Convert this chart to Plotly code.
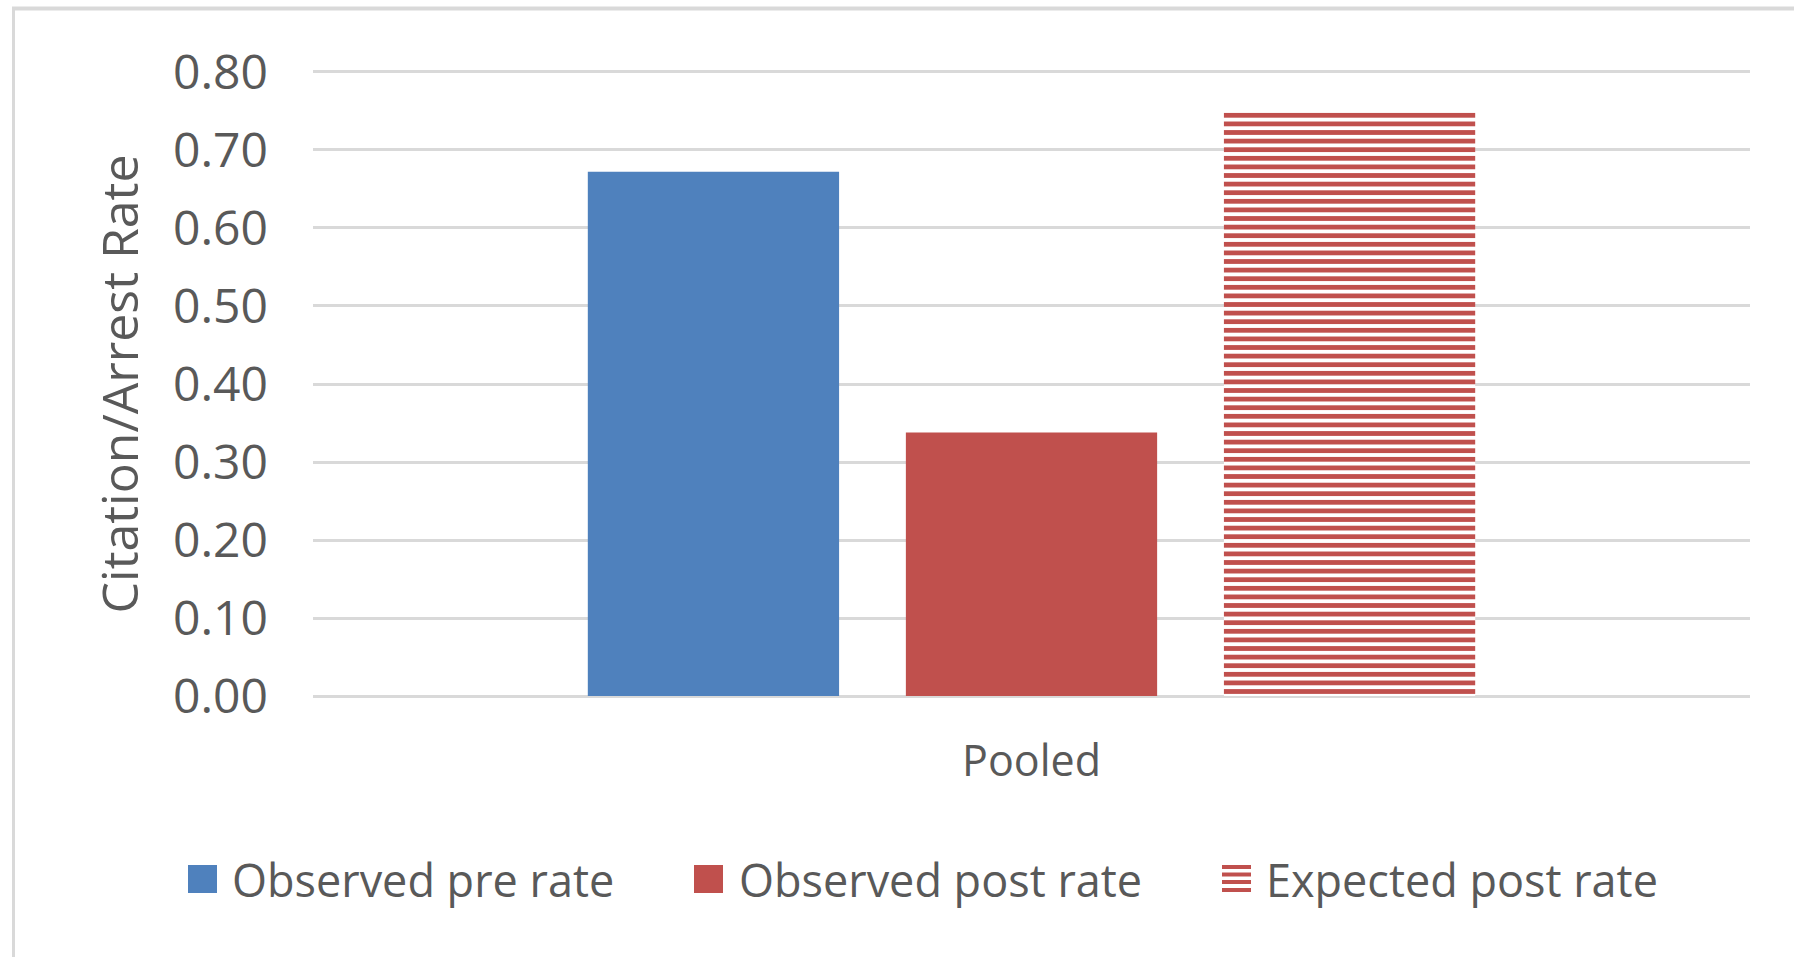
import plotly.graph_objects as go

# Data
categories = ["Pooled"]
series_names = ["Observed pre rate", "Observed post rate", "Expected post rate"]
observed_pre = [0.672]
observed_post = [0.338]
expected_post = [0.750]
y_ticks = [0.0, 0.1, 0.2, 0.3, 0.4, 0.5, 0.6, 0.7, 0.8]
y_tick_labels = ["0.00", "0.10", "0.20", "0.30", "0.40", "0.50", "0.60", "0.70", "0.80"]

BLUE = "#4F81BD"
RED = "#C0504D"
GRID = "#D9D9D9"
TEXT = "#595959"
FONT = "Open Sans"

W, H = 1794, 957
# pixel placement of the value axis: 0.00 at y=696, 0.80 at y=72
Y0_PX, Y80_PX = 696, 72
PX_PER_UNIT = (Y0_PX - Y80_PX) / 0.8
PAD = 0.005  # small range padding so the edge gridlines are not clipped
L, R = 313, 44
T = int(round(Y80_PX - PAD * PX_PER_UNIT))
B = int(round(H - (Y0_PX + PAD * PX_PER_UNIT)))
PW, PH = W - L - R, H - T - B


def px_x(x):
    return (x - L) / PW


def px_y(y):
    return (H - B - y) / PH


fig = go.Figure()
fig.add_trace(go.Bar(name=series_names[0], x=categories, y=observed_pre,
                     marker=dict(color=BLUE, line=dict(width=0))))
fig.add_trace(go.Bar(name=series_names[1], x=categories, y=observed_post,
                     marker=dict(color=RED, line=dict(width=0))))
fig.add_trace(go.Bar(name=series_names[2], x=categories, y=expected_post,
                     marker=dict(color=RED, line=dict(width=0),
                                 pattern=dict(shape="-", size=8.6, solidity=0.55,
                                              fgcolor=RED, bgcolor="white",
                                              fillmode="replace"))))

shapes = []
annotations = []

# outer chart frame (left and top edges)
shapes.append(dict(type="line", xref="paper", yref="paper",
                   x0=px_x(13.5), x1=px_x(13.5), y0=px_y(8.5), y1=px_y(H + 20),
                   line=dict(color=GRID, width=3)))
shapes.append(dict(type="line", xref="paper", yref="paper",
                   x0=px_x(12), x1=px_x(W + 20), y0=px_y(8.5), y1=px_y(8.5),
                   line=dict(color=GRID, width=4)))

# legend row
LEG_FONT = dict(family=FONT, size=45, color=TEXT)
leg_y0, leg_y1, leg_mid = 865, 893, 879
swatches = [(188, BLUE, 230), (694, RED, 737)]
for (sx, col, tx), name in zip(swatches, series_names[:2]):
    shapes.append(dict(type="rect", xref="paper", yref="paper",
                       x0=px_x(sx), x1=px_x(sx + 29), y0=px_y(leg_y0), y1=px_y(leg_y1),
                       fillcolor=col, line=dict(width=0)))
    annotations.append(dict(xref="paper", yref="paper", x=px_x(tx), y=px_y(leg_mid),
                            xanchor="left", yanchor="middle", showarrow=False,
                            text=name, font=LEG_FONT))
# striped swatch for the expected series
for sy0, sy1 in [(865, 869), (872.5, 876.5), (880, 884), (888, 892)]:
    shapes.append(dict(type="rect", xref="paper", yref="paper",
                       x0=px_x(1222), x1=px_x(1251), y0=px_y(sy0), y1=px_y(sy1),
                       fillcolor=RED, line=dict(width=0)))
annotations.append(dict(xref="paper", yref="paper", x=px_x(1264), y=px_y(leg_mid),
                        xanchor="left", yanchor="middle", showarrow=False,
                        text=series_names[2], font=LEG_FONT))

fig.update_layout(
    width=W, height=H,
    margin=dict(l=L, r=R, t=T, b=B, pad=0),
    paper_bgcolor="white", plot_bgcolor="white",
    barmode="group", bargap=0.336, bargroupgap=0.21,
    showlegend=False,
    shapes=shapes, annotations=annotations,
    font=dict(family=FONT, color=TEXT),
)
fig.update_xaxes(showgrid=False, showline=False, zeroline=False,
                 tickfont=dict(family=FONT, size=43, color=TEXT),
                 ticks="", ticklabelstandoff=32)
fig.update_yaxes(range=[-PAD, 0.8 + PAD], tickvals=y_ticks, ticktext=y_tick_labels,
                 showgrid=True, gridcolor=GRID, gridwidth=3,
                 zeroline=False, showline=False, ticks="",
                 ticklabelstandoff=44,
                 tickfont=dict(family=FONT, size=48, color=TEXT),
                 title=dict(text="Citation/Arrest Rate", standoff=18,
                            font=dict(family=FONT, size=50, color=TEXT)))

fig.write_html("out.html")
